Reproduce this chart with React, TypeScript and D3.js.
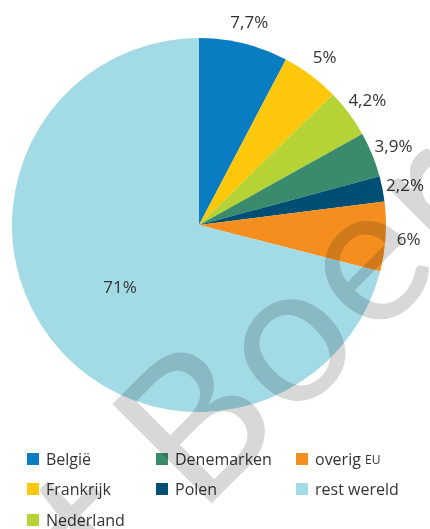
import React from "react";
import * as d3 from "d3";

const categories = ["België", "Frankrijk", "Nederland", "Denemarken", "Polen", "overig EU", "rest wereld"];
const values = [7.7, 5, 4.2, 3.9, 2.2, 6, 71];
const labels = ["7,7%", "5%", "4,2%", "3,9%", "2,2%", "6%", "71%"];
const colors = ["#0a7cc2", "#fdc80c", "#b5d334", "#3a8b6b", "#004e73", "#f48f1f", "#a2dbe5"];
const legendColumns = [
  ["België", "Frankrijk", "Nederland"],
  ["Denemarken", "Polen"],
  ["overig EU", "rest wereld"],
];

const W = 430;
const H = 529;
const cx = 199;
const cy = 225;
const R = 187;
const FONT = "'Open Sans', 'Noto Sans', sans-serif";

export default function App() {
  const data = categories.map((c, i) => ({ name: c, value: values[i], label: labels[i], color: colors[i] }));
  const pie = d3.pie<any>().value((d: any) => d.value).sort(null);
  const arcs = pie(data);
  const arc = d3.arc<any>().innerRadius(0).outerRadius(R);
  const outerLabel = d3.arc<any>().innerRadius(210).outerRadius(210);
  const innerLabel = d3.arc<any>().innerRadius(100).outerRadius(100);

  const colX = [27, 156, 296];
  const rowY = [459, 489, 520];
  const colorOf = (n: string) => colors[categories.indexOf(n)];

  return (
    <svg width={W} height={H} style={{ position: "absolute", left: 0, top: 0, display: "block", background: "#fff" }}>
      <g transform={`translate(${cx},${cy})`}>
        {arcs.map((a, i) => (
          <path key={i} d={arc(a) as string} fill={a.data.color} />
        ))}
        {arcs.map((a, i) => {
          const big = a.data.value > 50;
          const [x, y] = big ? innerLabel.centroid(a) : outerLabel.centroid(a);
          return (
            <text
              key={"l" + i}
              x={x}
              y={y}
              textAnchor="middle"
              dominantBaseline="central"
              fontFamily={FONT}
              fontSize={17}
              fill="#333"
            >
              {a.data.label}
            </text>
          );
        })}
      </g>
      <g fontFamily={FONT} fontSize={16} fill="#333">
        {legendColumns.map((col, ci) =>
          col.map((name, ri) => {
            const isEU = name === "overig EU";
            return (
              <g key={name} transform={`translate(${colX[ci]},${rowY[ri]})`}>
                <rect x={0} y={-6} width={12} height={12} fill={colorOf(name)} />
                <text x={19} y={0} dominantBaseline="central">
                  {isEU ? (
                    <>
                      overig <tspan fontSize={12}>EU</tspan>
                    </>
                  ) : (
                    name
                  )}
                </text>
              </g>
            );
          })
        )}
      </g>
      <g style={{ mixBlendMode: "multiply" }}>
        <text
          transform="translate(199,516) rotate(-45)"
          fontFamily="Lato, 'Open Sans', sans-serif"
          fontSize={196}
          letterSpacing={4}
          fill="#d8d8d8"
        >
          <tspan x={-120}>t</tspan>
          <tspan x={0}>Boer</tspan>
        </text>
      </g>
    </svg>
  );
}
